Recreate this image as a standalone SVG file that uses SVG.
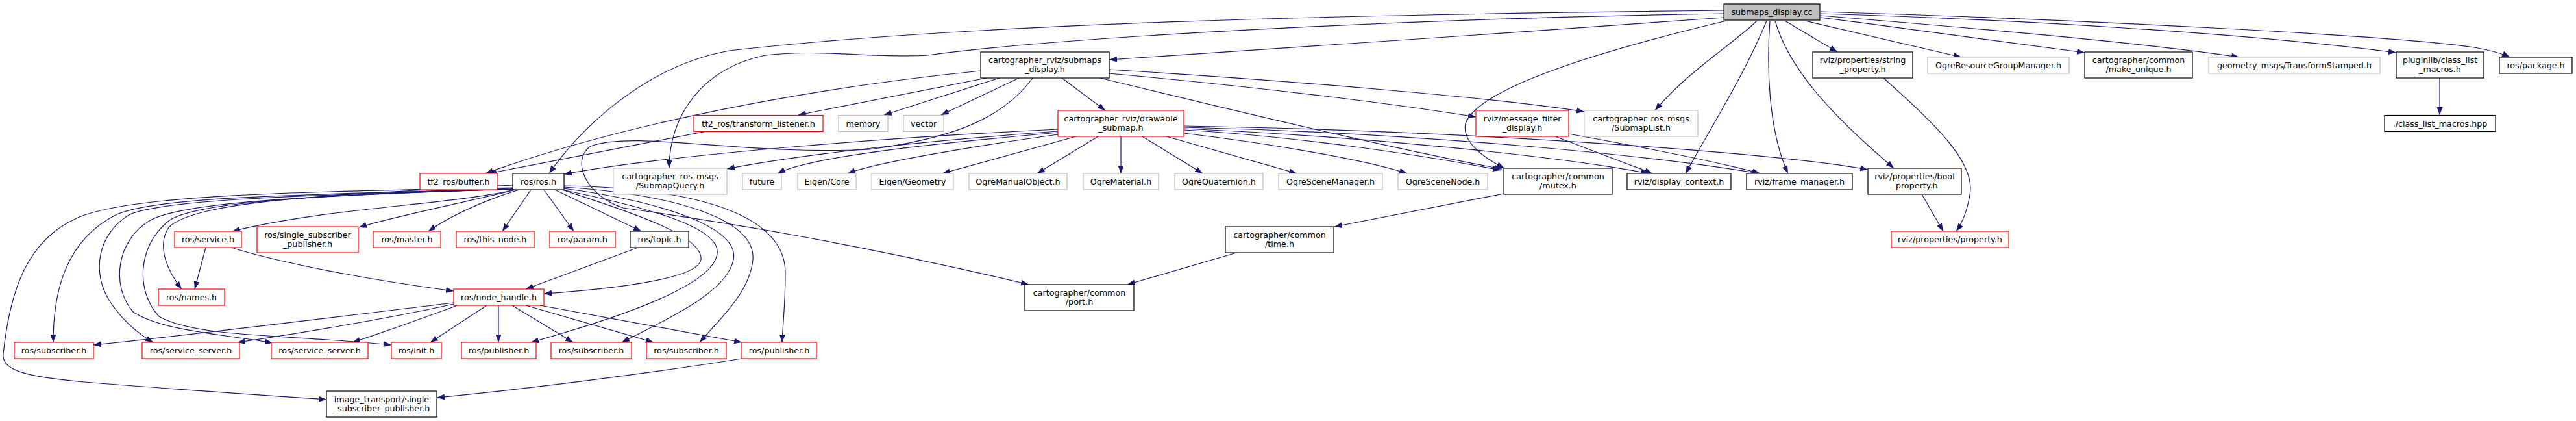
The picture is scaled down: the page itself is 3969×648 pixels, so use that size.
<svg xmlns="http://www.w3.org/2000/svg" width="3969" height="648" viewBox="0 0 3969 648">
<defs>
<marker id="a" viewBox="0 0 12 9" refX="12" refY="4.5" markerWidth="12" markerHeight="9" markerUnits="userSpaceOnUse" orient="auto"><path d="M0,0 L12,4.5 L0,9 z" fill="#191970"/></marker>
<style>
rect{fill:#fff;stroke:#000;stroke-width:1.2}
.r rect{stroke:#ff0000}
.g rect{stroke:#bfbfbf}
.c rect{fill:#bfbfbf}
text{font-family:"DejaVu Sans",sans-serif;font-size:12.7px;text-anchor:middle;fill:#000}
#edges path{fill:none;stroke:#191970;stroke-width:1.2;marker-end:url(#a)}
</style>
</defs>
<rect x="0" y="0" width="3969" height="648" style="fill:#fff;stroke:none"/>
<g id="edges">
<path d="M2656,27 C2350,50 1950,75 1709,92"/>
<path d="M2656,16 C2100,22 1500,35 1124,78 C1000,100 900,190 846,267"/>
<path d="M2656,21 C2200,28 1650,55 1430,85 C1350,90 1260,75 1180,85 C1080,105 1031,180 1031,259"/>
<path d="M2660,32 C2500,70 2280,130 2258,190 C2252,220 2290,245 2318,259"/>
<path d="M2707,32 C2680,60 2600,110 2550,170"/>
<path d="M2722,32 C2690,110 2640,190 2597,267"/>
<path d="M2727,32 C2722,100 2724,200 2755,267"/>
<path d="M2735,32 C2760,120 2850,200 2918,259"/>
<path d="M2750,32 L2831,80"/>
<path d="M2781,32 L3022,88"/>
<path d="M2805,27 C2950,45 3100,65 3212,81"/>
<path d="M2805,24 C3000,40 3300,65 3450,88"/>
<path d="M2805,21 C3100,30 3450,50 3692,81"/>
<path d="M2805,18 C3200,30 3700,55 3812,73 C3840,78 3855,82 3867,88"/>
<path d="M3759,120 L3759,177"/>
<path d="M2902,120 C2980,190 3045,250 3035,300 C3030,330 3022,345 3014,356"/>
<path d="M2961,299 L2994,356"/>
<path d="M1511,109 C1250,135 960,190 748,267"/>
<path d="M1520,120 C1420,140 1320,160 1230,177"/>
<path d="M1540,120 L1362,177"/>
<path d="M1570,120 L1450,177"/>
<path d="M1636,120 L1703,170"/>
<path d="M1709,107 C2000,125 2300,150 2441,172"/>
<path d="M1709,113 C1950,135 2150,160 2274,180"/>
<path d="M1695,120 C1900,170 2150,230 2314,260"/>
<path d="M1591,120 C1540,190 1450,215 1340,230 C1150,240 980,200 910,225 C880,245 900,300 960,320 C1100,340 1300,370 1585,438"/>
<path d="M1630,199 C1400,210 1050,235 869,268"/>
<path d="M1630,202 C1450,215 1250,235 1120,260"/>
<path d="M1630,204 C1450,220 1250,240 1198,267"/>
<path d="M1630,207 C1500,225 1350,250 1306,267"/>
<path d="M1658,210 L1452,267"/>
<path d="M1692,210 L1598,267"/>
<path d="M1727,210 L1727,267"/>
<path d="M1760,210 L1853,267"/>
<path d="M1797,210 L1998,267"/>
<path d="M1824,205 C1950,220 2100,245 2168,267"/>
<path d="M1824,200 C2000,210 2200,240 2312,262"/>
<path d="M1824,198 C2100,210 2400,240 2540,267"/>
<path d="M1824,196 C2200,205 2550,240 2710,267"/>
<path d="M1824,194 C2200,200 2700,230 2878,261"/>
<path d="M2396,210 L2546,267"/>
<path d="M2417,206 C2550,230 2650,250 2712,267"/>
<path d="M2317,298 L2056,349"/>
<path d="M1905,389 L1737,438"/>
<path d="M1089,202 L753,267"/>
<path d="M792,292 C700,315 500,320 358,356"/>
<path d="M795,292 C700,315 600,335 553,350"/>
<path d="M800,292 C740,310 690,335 660,356"/>
<path d="M818,292 L774,356"/>
<path d="M838,292 L884,356"/>
<path d="M855,292 L988,356"/>
<path d="M866,292 C950,320 1085,360 1080,400 C1075,430 940,445 838,452"/>
<path d="M790,285 C500,300 300,310 260,350 C240,380 260,420 280,445"/>
<path d="M790,290 C500,300 250,300 180,330 C100,370 82,450 82,527"/>
<path d="M790,289 C450,295 200,300 120,335 C40,370 15,450 5,545 C2,570 40,580 130,588 C250,598 400,608 503,615"/>
<path d="M790,291 C500,300 260,305 200,330 C150,360 140,420 170,465 C190,495 215,515 236,527"/>
<path d="M792,291 C500,300 280,310 230,340 C180,370 170,440 205,480 C250,510 350,515 420,528"/>
<path d="M795,291 C500,300 300,310 260,340 C210,380 210,450 245,487 C300,520 450,515 603,531"/>
<path d="M866,292 C1000,320 1110,350 1105,390 C1100,440 950,490 818,527"/>
<path d="M868,290 C1020,310 1140,350 1130,400 C1120,450 1030,490 958,527"/>
<path d="M869,288 C1050,300 1165,340 1160,400 C1155,450 1110,490 1078,527"/>
<path d="M869,286 C1100,290 1210,340 1210,420 C1210,470 1206,500 1205,527"/>
<path d="M317,381 L300,445"/>
<path d="M356,381 C450,410 600,435 699,448"/>
<path d="M983,381 L810,445"/>
<path d="M699,466 C500,490 300,515 144,531"/>
<path d="M699,468 C600,490 450,515 366,527"/>
<path d="M705,470 C650,490 590,512 543,527"/>
<path d="M750,470 L663,527"/>
<path d="M768,470 L768,527"/>
<path d="M789,470 L883,527"/>
<path d="M810,470 L1007,527"/>
<path d="M832,470 L1143,527"/>
<path d="M1143,552 C1000,575 800,600 673,612"/>
</g>
<g id="n_cc" class="c"><rect x="2656" y="6" width="148" height="25"/><text x="2730" y="23">submaps_display.cc</text></g>
<g id="n_sdh"><rect x="1511" y="80" width="198" height="40"/><text x="1610" y="96.5">cartographer_rviz/submaps</text><text x="1610" y="111">_display.h</text></g>
<g id="n_strp"><rect x="2793" y="80" width="154" height="40"/><text x="2870" y="96.5">rviz/properties/string</text><text x="2870" y="111">_property.h</text></g>
<g id="n_orgm" class="g"><rect x="2970" y="88" width="218" height="25"/><text x="3079" y="105">OgreResourceGroupManager.h</text></g>
<g id="n_mu"><rect x="3212" y="80" width="166" height="40"/><text x="3295" y="96.5">cartographer/common</text><text x="3295" y="111">/make_unique.h</text></g>
<g id="n_ts" class="g"><rect x="3403" y="88" width="264" height="25"/><text x="3535" y="105">geometry_msgs/TransformStamped.h</text></g>
<g id="n_clm"><rect x="3692" y="80" width="135" height="40"/><text x="3759.5" y="96.5">pluginlib/class_list</text><text x="3759.5" y="111">_macros.h</text></g>
<g id="n_pkg"><rect x="3851" y="88" width="112" height="25"/><text x="3907" y="105">ros/package.h</text></g>
<g id="n_tl" class="r"><rect x="1069" y="177.5" width="199" height="25"/><text x="1168.5" y="194.5">tf2_ros/transform_listener.h</text></g>
<g id="n_mem" class="g"><rect x="1292" y="177.5" width="76" height="25"/><text x="1330" y="194.5">memory</text></g>
<g id="n_vec" class="g"><rect x="1392" y="177.5" width="62" height="25"/><text x="1423" y="194.5">vector</text></g>
<g id="n_ds" class="r"><rect x="1630" y="170" width="194" height="40"/><text x="1727" y="186.5">cartographer_rviz/drawable</text><text x="1727" y="201">_submap.h</text></g>
<g id="n_mfd" class="r"><rect x="2274" y="170" width="143" height="40"/><text x="2345.5" y="186.5">rviz/message_filter</text><text x="2345.5" y="201">_display.h</text></g>
<g id="n_sl" class="g"><rect x="2441" y="170" width="175" height="40"/><text x="2528.5" y="186.5">cartographer_ros_msgs</text><text x="2528.5" y="201">/SubmapList.h</text></g>
<g id="n_hpp"><rect x="3674" y="177.5" width="171" height="25"/><text x="3759.5" y="194.5">./class_list_macros.hpp</text></g>
<g id="n_buf" class="r"><rect x="647" y="267" width="119" height="25"/><text x="706.5" y="284">tf2_ros/buffer.h</text></g>
<g id="n_ros"><rect x="790" y="267" width="79" height="25"/><text x="829.5" y="284">ros/ros.h</text></g>
<g id="n_sq" class="g"><rect x="945" y="259" width="175" height="40"/><text x="1032.5" y="275.5">cartographer_ros_msgs</text><text x="1032.5" y="290">/SubmapQuery.h</text></g>
<g id="n_fut" class="g"><rect x="1144" y="267" width="60" height="25"/><text x="1174" y="284">future</text></g>
<g id="n_ec" class="g"><rect x="1229" y="267" width="90" height="25"/><text x="1274" y="284">Eigen/Core</text></g>
<g id="n_eg" class="g"><rect x="1343" y="267" width="126" height="25"/><text x="1406" y="284">Eigen/Geometry</text></g>
<g id="n_omo" class="g"><rect x="1493" y="267" width="151" height="25"/><text x="1568.5" y="284">OgreManualObject.h</text></g>
<g id="n_omat" class="g"><rect x="1669" y="267" width="116" height="25"/><text x="1727" y="284">OgreMaterial.h</text></g>
<g id="n_oq" class="g"><rect x="1810" y="267" width="136" height="25"/><text x="1878" y="284">OgreQuaternion.h</text></g>
<g id="n_osm" class="g"><rect x="1970" y="267" width="160" height="25"/><text x="2050" y="284">OgreSceneManager.h</text></g>
<g id="n_osn" class="g"><rect x="2154" y="267" width="138" height="25"/><text x="2223" y="284">OgreSceneNode.h</text></g>
<g id="n_mtx"><rect x="2317" y="259" width="167" height="40"/><text x="2400.5" y="275.5">cartographer/common</text><text x="2400.5" y="290">/mutex.h</text></g>
<g id="n_dc"><rect x="2507" y="267" width="160" height="25"/><text x="2587" y="284">rviz/display_context.h</text></g>
<g id="n_fm"><rect x="2691" y="267" width="163" height="25"/><text x="2772.5" y="284">rviz/frame_manager.h</text></g>
<g id="n_bp"><rect x="2878" y="259" width="144" height="40"/><text x="2950" y="275.5">rviz/properties/bool</text><text x="2950" y="290">_property.h</text></g>
<g id="n_svc" class="r"><rect x="269" y="356" width="103" height="25"/><text x="320.5" y="373">ros/service.h</text></g>
<g id="n_ssp" class="r"><rect x="396" y="349" width="156" height="40"/><text x="474" y="365.5">ros/single_subscriber</text><text x="474" y="380">_publisher.h</text></g>
<g id="n_mst" class="r"><rect x="575" y="356" width="104" height="25"/><text x="627" y="373">ros/master.h</text></g>
<g id="n_tn" class="r"><rect x="703" y="356" width="120" height="25"/><text x="763" y="373">ros/this_node.h</text></g>
<g id="n_prm" class="r"><rect x="847" y="356" width="101" height="25"/><text x="897.5" y="373">ros/param.h</text></g>
<g id="n_top"><rect x="971" y="356" width="90" height="25"/><text x="1016" y="373">ros/topic.h</text></g>
<g id="n_time"><rect x="1888" y="349" width="167" height="40"/><text x="1971.5" y="365.5">cartographer/common</text><text x="1971.5" y="380">/time.h</text></g>
<g id="n_prop" class="r"><rect x="2914" y="356" width="181" height="25"/><text x="3004.5" y="373">rviz/properties/property.h</text></g>
<g id="n_nam" class="r"><rect x="244" y="445" width="102" height="25"/><text x="295" y="462">ros/names.h</text></g>
<g id="n_nh" class="r"><rect x="699" y="445" width="139" height="25"/><text x="768.5" y="462">ros/node_handle.h</text></g>
<g id="n_port"><rect x="1579" y="438" width="168" height="40"/><text x="1663" y="454.5">cartographer/common</text><text x="1663" y="469">/port.h</text></g>
<g id="n_sub1" class="r"><rect x="22" y="527" width="122" height="25"/><text x="83" y="544">ros/subscriber.h</text></g>
<g id="n_ss1" class="r"><rect x="219" y="527" width="150" height="25"/><text x="294" y="544">ros/service_server.h</text></g>
<g id="n_ss2" class="r"><rect x="418" y="527" width="149" height="25"/><text x="492.5" y="544">ros/service_server.h</text></g>
<g id="n_init" class="r"><rect x="603" y="527" width="77" height="25"/><text x="641.5" y="544">ros/init.h</text></g>
<g id="n_pub1" class="r"><rect x="711" y="527" width="115" height="25"/><text x="768.5" y="544">ros/publisher.h</text></g>
<g id="n_sub2" class="r"><rect x="849" y="527" width="124" height="25"/><text x="911" y="544">ros/subscriber.h</text></g>
<g id="n_sub3" class="r"><rect x="996" y="527" width="123" height="25"/><text x="1057.5" y="544">ros/subscriber.h</text></g>
<g id="n_pub2" class="r"><rect x="1143" y="527" width="115" height="25"/><text x="1200.5" y="544">ros/publisher.h</text></g>
<g id="n_itp"><rect x="503" y="602" width="170" height="40"/><text x="588" y="618.5">image_transport/single</text><text x="588" y="633">_subscriber_publisher.h</text></g>
</svg>
